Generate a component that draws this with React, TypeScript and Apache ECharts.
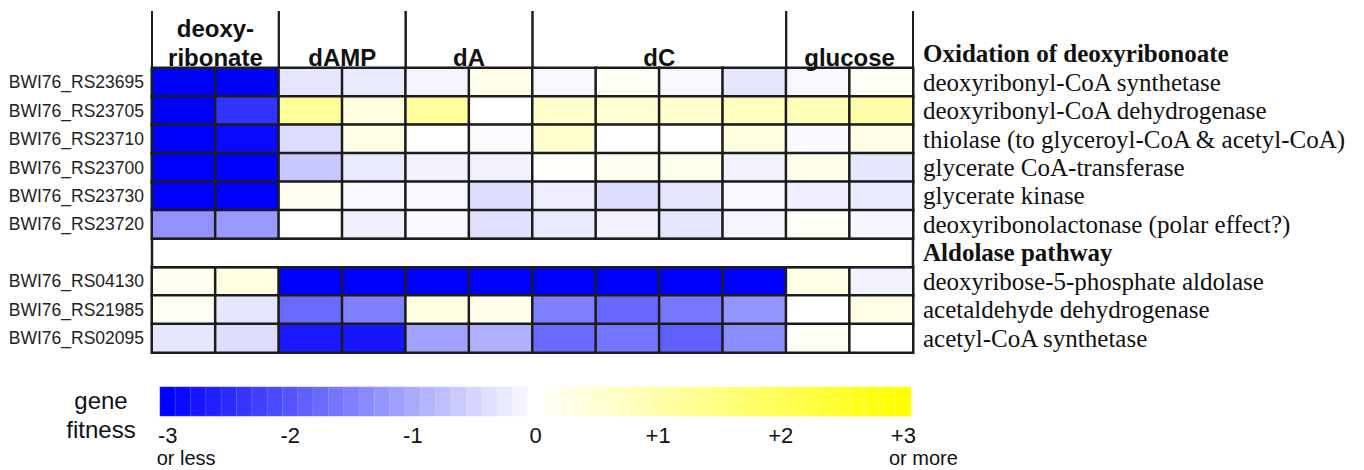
import React, { useEffect, useRef } from "react";
import * as echarts from "echarts";

// ---- conditions (columns) ----
const groupNames = ["deoxy-\nribonate", "dAMP", "dA", "dC", "glucose"];
const groupSpans = [2, 2, 2, 4, 2];
const columns = [
  "deoxyribonate 1", "deoxyribonate 2",
  "dAMP 1", "dAMP 2",
  "dA 1", "dA 2",
  "dC 1", "dC 2", "dC 3", "dC 4",
  "glucose 1", "glucose 2",
];

// ---- genes (rows) ----
const oxidationHeading = "Oxidation of deoxyribonoate";
const aldolaseHeading = "Aldolase pathway";
const oxidationGenes = ["BWI76_RS23695", "BWI76_RS23705", "BWI76_RS23710", "BWI76_RS23700", "BWI76_RS23730", "BWI76_RS23720"];
const oxidationDescriptions = [
  "deoxyribonyl-CoA synthetase",
  "deoxyribonyl-CoA dehydrogenase",
  "thiolase (to glyceroyl-CoA & acetyl-CoA)",
  "glycerate CoA-transferase",
  "glycerate kinase",
  "deoxyribonolactonase (polar effect?)",
];
const aldolaseGenes = ["BWI76_RS04130", "BWI76_RS21985", "BWI76_RS02095"];
const aldolaseDescriptions = [
  "deoxyribose-5-phosphate aldolase",
  "acetaldehyde dehydrogenase",
  "acetyl-CoA synthetase",
];

// ---- gene fitness values (one per column) ----
const fitnessRS23695 = [-3, -3, -0.3, -0.25, -0.12, 0.25, -0.1, 0.08, -0.1, -0.3, -0.08, 0.08];
const fitnessRS23705 = [-3, -2.4, 1.2, 0.4, 1.15, 0, 0.6, 0.5, 0.55, 0.75, 0.85, 1.0];
const fitnessRS23710 = [-3, -2.9, -0.4, 0.3, 0.02, -0.05, 0.55, 0, 0, 0.35, -0.07, 0.3];
const fitnessRS23700 = [-3, -3, -0.65, -0.25, -0.15, -0.15, 0.05, 0.15, 0.2, -0.15, 0.25, -0.3];
const fitnessRS23730 = [-3, -3, 0.15, -0.07, -0.1, -0.4, -0.2, -0.4, -0.3, -0.08, -0.2, -0.25];
const fitnessRS23720 = [-1.3, -1.2, 0, -0.18, -0.07, -0.35, -0.25, -0.15, -0.3, -0.12, 0.1, -0.12];
const fitnessRS04130 = [0.15, 0.35, -3, -3, -3, -3, -3, -3, -3, -3, 0.3, -0.15];
const fitnessRS21985 = [0.1, -0.3, -1.75, -1.5, 0.35, 0.22, -1.5, -1.77, -1.6, -1.25, 0, 0.3];
const fitnessRS02095 = [-0.3, -0.4, -2.7, -2.75, -1.1, -0.93, -1.75, -1.62, -1.87, -1.35, 0.08, 0];

const oxidationFitness = [fitnessRS23695, fitnessRS23705, fitnessRS23710, fitnessRS23700, fitnessRS23730, fitnessRS23720];
const aldolaseFitness = [fitnessRS04130, fitnessRS21985, fitnessRS02095];

// ---- colour key ----
const legendKey = [
  -3, -2.875, -2.75, -2.625, -2.5, -2.375, -2.25, -2.125,
  -2, -1.875, -1.75, -1.625, -1.5, -1.375, -1.25, -1.125,
  -1, -0.875, -0.75, -0.625, -0.5, -0.375, -0.25, -0.125,
  0, 0.125, 0.25, 0.375, 0.5, 0.625, 0.75, 0.875,
  1, 1.125, 1.25, 1.375, 1.5, 1.625, 1.75, 1.875,
  2, 2.125, 2.25, 2.375, 2.5, 2.625, 2.75, 2.875, 3,
];
const legendTickLabels = ["-3", "-2", "-1", "0", "+1", "+2", "+3"];
const legendLowNote = "or less";
const legendHighNote = "or more";
const legendTitle = "gene\nfitness";

const SANS = '"Liberation Sans", Arial, sans-serif';
const SERIF = '"Liberation Serif", "Times New Roman", serif';
const LINE = "#1c1c1c";

export default function App() {
  const ref = useRef<HTMLDivElement>(null);

  useEffect(() => {
    if (!ref.current) return;
    const chart = echarts.init(ref.current, undefined, { renderer: "svg" });

    const gapRow = 2 + oxidationGenes.length;
    const rowIds = ["header-top", "header-bottom", ...oxidationGenes, "pathway-gap", ...aldolaseGenes];
    const rowDescriptions = ["", oxidationHeading, ...oxidationDescriptions, aldolaseHeading, ...aldolaseDescriptions];
    const headings = [oxidationHeading, aldolaseHeading];

    const cellData: any[] = [];
    oxidationFitness.forEach((vals, gi) => vals.forEach((v, c) => cellData.push([c, 2 + gi, v])));
    aldolaseFitness.forEach((vals, gi) => vals.forEach((v, c) => cellData.push([c, gapRow + 1 + gi, v])));

    let start = 0;
    const groupData = groupNames.map((_, i) => {
      const d = [start, 1, start + groupSpans[i] - 1, i];
      start += groupSpans[i];
      return d;
    });

    const legendData = legendKey.map((v, i) => [i, 0, v]);

    const option: any = {
      animation: false,
      backgroundColor: "#ffffff",
      grid: [
        { left: 152, top: 11, width: 761, height: 341.5 },
        { left: 160, top: 387, width: 751, height: 29 },
      ],
      xAxis: [
        {
          type: "category",
          gridIndex: 0,
          data: columns,
          axisLine: { show: false },
          axisTick: { show: false },
          axisLabel: { show: false },
          splitLine: { show: false },
        },
        {
          type: "category",
          gridIndex: 1,
          data: legendKey.map(String),
          axisLine: { show: false },
          axisTick: { show: false },
          splitLine: { show: false },
          axisLabel: {
            interval: (i: number) => i % 8 === 0,
            margin: 8,
            color: "#111",
            formatter: (_v: string, i: number) => {
              const t = legendTickLabels[Math.round(i / 8)];
              if (i === 0) return `{n|${t}}\n{lo|${legendLowNote}}`;
              if (i === legendKey.length - 1) return `{n|${t}}\n{hi|${legendHighNote}}`;
              return `{n|${t}}`;
            },
            rich: {
              n: { fontSize: 22, lineHeight: 23, fontFamily: SANS, color: "#111" },
              lo: { fontSize: 20, lineHeight: 22, fontFamily: SANS, color: "#111", padding: [0, 0, 0, 37] },
              hi: { fontSize: 20, lineHeight: 22, fontFamily: SANS, color: "#111", padding: [0, 0, 0, 40] },
            },
          },
        },
      ],
      yAxis: [
        {
          type: "category",
          gridIndex: 0,
          inverse: true,
          data: rowIds,
          axisLine: { show: false },
          axisTick: { show: false },
          splitLine: { show: false },
          axisLabel: {
            interval: 0,
            margin: 8,
            fontSize: 17.5,
            fontFamily: SANS,
            color: "#222",
            formatter: (v: string) => (v.startsWith("BWI") ? v : ""),
          },
        },
        {
          type: "category",
          gridIndex: 0,
          position: "right",
          inverse: true,
          data: rowIds,
          axisLine: { show: false },
          axisTick: { show: false },
          splitLine: { show: false },
          axisLabel: {
            interval: 0,
            margin: 10,
            formatter: (_v: string, i: number) => {
              const d = rowDescriptions[i];
              if (!d) return "";
              return headings.includes(d) ? `{b|${d}}` : `{r|${d}}`;
            },
            rich: {
              b: { fontSize: 25, fontWeight: "bold", fontFamily: SERIF, color: "#111" },
              r: { fontSize: 25, fontFamily: SERIF, color: "#111" },
            },
          },
        },
        {
          type: "category",
          gridIndex: 1,
          data: ["key"],
          show: false,
        },
      ],
      visualMap: {
        type: "continuous",
        show: false,
        min: -3,
        max: 3,
        dimension: 2,
        seriesIndex: [0, 3],
        inRange: { color: ["#0000ff", "#ffffff", "#ffff00"] },
      },
      graphic: [
        {
          type: "text",
          x: 101,
          y: 415,
          style: {
            text: legendTitle,
            font: `24px ${SANS}`,
            fill: "#111",
            align: "center",
            verticalAlign: "middle",
            textAlign: "center",
            textVerticalAlign: "middle",
            lineHeight: 29,
          },
        },
      ],
      series: [
        {
          type: "heatmap",
          xAxisIndex: 0,
          yAxisIndex: 0,
          data: cellData,
          itemStyle: { borderColor: LINE, borderWidth: 2.5 },
          emphasis: { disabled: true },
          z: 2,
        },
        {
          type: "custom",
          xAxisIndex: 0,
          yAxisIndex: 0,
          data: [[0, gapRow, columns.length - 1]],
          z: 3,
          renderItem: (_p: any, api: any) => {
            const a = api.coord([api.value(0), api.value(1)]);
            const b = api.coord([api.value(2), api.value(1)]);
            const sz = api.size([1, 1]);
            return {
              type: "rect",
              shape: { x: a[0] - sz[0] / 2, y: a[1] - sz[1] / 2, width: b[0] - a[0] + sz[0], height: sz[1] },
              style: { fill: "#ffffff", stroke: LINE, lineWidth: 2.5 },
            };
          },
        },
        {
          type: "custom",
          xAxisIndex: 0,
          yAxisIndex: 0,
          data: groupData,
          z: 3,
          renderItem: (_p: any, api: any) => {
            const a = api.coord([api.value(0), api.value(1)]);
            const b = api.coord([api.value(2), api.value(1)]);
            const sz = api.size([1, 1]);
            const left = a[0] - sz[0] / 2;
            const right = b[0] + sz[0] / 2;
            const bottom = a[1] + sz[1] / 2;
            const top = bottom - 2 * sz[1];
            const name = groupNames[api.value(3)];
            const twoLine = name.indexOf("\n") >= 0;
            const ty = twoLine ? a[1] - sz[1] / 2 + 3.5 : a[1] + 3.5;
            return {
              type: "group",
              children: [
                { type: "line", shape: { x1: left, y1: top, x2: left, y2: bottom }, style: { stroke: LINE, lineWidth: 2 } },
                { type: "line", shape: { x1: right, y1: top, x2: right, y2: bottom }, style: { stroke: LINE, lineWidth: 2 } },
                {
                  type: "text",
                  x: (left + right) / 2,
                  y: ty,
                  style: {
                    text: name,
                    font: `bold 24px ${SANS}`,
                    fill: "#111",
                    align: "center",
                    verticalAlign: "middle",
                    textAlign: "center",
                    textVerticalAlign: "middle",
                    lineHeight: 29,
                  },
                },
              ],
            };
          },
        },
        {
          type: "heatmap",
          xAxisIndex: 1,
          yAxisIndex: 2,
          data: legendData,
          itemStyle: { borderColor: "rgba(255,255,255,0.25)", borderWidth: 0.6 },
          emphasis: { disabled: true },
        },
      ],
    };

    chart.setOption(option);
    return () => chart.dispose();
  }, []);

  return (
    <div
      ref={ref}
      style={{ position: "fixed", left: 0, top: 0, width: 1364, height: 470, background: "#fff" }}
    />
  );
}
